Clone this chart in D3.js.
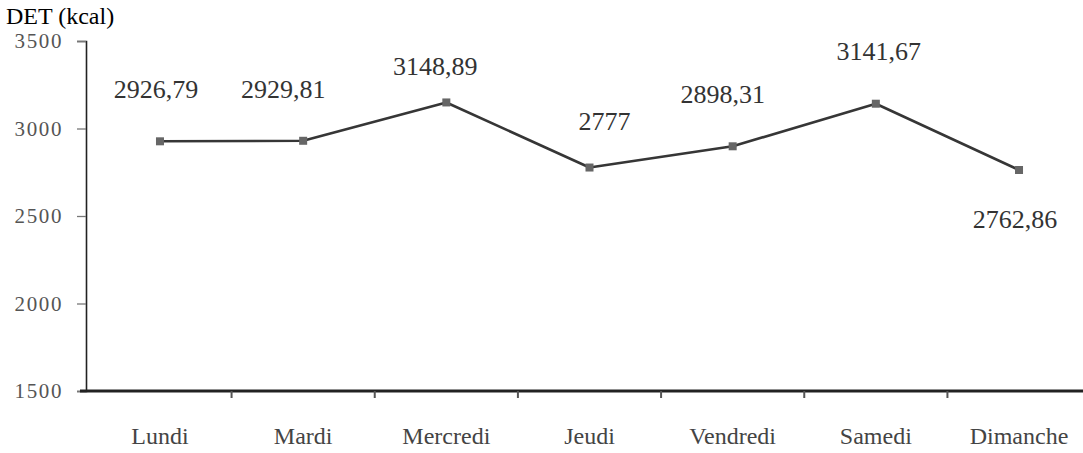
<!DOCTYPE html>
<html>
<head>
<meta charset="utf-8">
<script src="https://cdn.jsdelivr.net/npm/d3@7"></script>
<style>
  html, body { margin: 0; padding: 0; background: #fff; }
  svg { display: block; }
  svg text { font-family: "Liberation Serif", "Times New Roman", serif !important; }
</style>
</head>
<body>
<svg id="chart" width="1083" height="453"></svg>
<script>
// Daily energy intake (DET) by day of week
const days = ["Lundi", "Mardi", "Mercredi", "Jeudi", "Vendredi", "Samedi", "Dimanche"];
const det = [2926.79, 2929.81, 3148.89, 2777, 2898.31, 3141.67, 2762.86];
const labelText = ["2926,79", "2929,81", "3148,89", "2777", "2898,31", "3141,67", "2762,86"];
const yTicks = [1500, 2000, 2500, 3000, 3500];

const SERIF = "'Liberation Serif', 'Times New Roman', serif";
const root = d3.select("#chart").append("g").attr("font-family", SERIF);

const x = d3.scaleBand().domain(days).range([88.4, 1090.6]);
const y = d3.scaleLinear().domain([1500, 3500]).range([391, 41]);

// Y axis
const yAxis = root.append("g")
  .attr("transform", "translate(86,0)")
  .call(d3.axisLeft(y).tickValues(yTicks).tickSize(9).tickPadding(14).tickFormat(d3.format("d")))
  .attr("font-family", SERIF);
yAxis.select(".domain").attr("stroke", "#222").attr("stroke-width", 1.6);
yAxis.selectAll(".tick line").attr("stroke", "#777").attr("stroke-width", 1.3);
yAxis.selectAll(".tick text")
  .attr("fill", "#555")
  .style("font-size", "21px")
  .style("letter-spacing", "1.6px");

// X axis baseline with ticks between categories
const xAxisG = root.append("g").attr("transform", `translate(0,${y(1500)})`);
xAxisG.append("line")
  .attr("x1", 80).attr("x2", 1090).attr("y1", 0).attr("y2", 0)
  .attr("stroke", "#222").attr("stroke-width", 2.8);
const bounds = days.slice(1).map(d => x(d));
xAxisG.selectAll("line.tk").data(bounds).enter().append("line")
  .attr("class", "tk")
  .attr("x1", d => d).attr("x2", d => d).attr("y1", 0).attr("y2", 7)
  .attr("stroke", "#555").attr("stroke-width", 2);
xAxisG.selectAll("text.cat").data(days).enter().append("text")
  .attr("class", "cat")
  .attr("x", d => x(d) + x.bandwidth() / 2)
  .attr("y", 53)
  .attr("text-anchor", "middle")
  .attr("fill", "#444")
  .style("font-size", "24px")
  .text(d => d);

// Title
root.append("g").append("text")
  .attr("x", 6).attr("y", 24)
  .attr("fill", "#000")
  .style("font-size", "24px")
  .text("DET (kcal)");

// Line
const cx = d => x(d) + x.bandwidth() / 2;
const line = d3.line().x((d, i) => cx(days[i])).y(d => y(d));
root.append("path")
  .datum(det)
  .attr("fill", "none")
  .attr("stroke", "#363636")
  .attr("stroke-width", 2.6)
  .attr("stroke-linejoin", "round")
  .attr("d", line);

// Markers
root.selectAll("rect.pt").data(det).enter().append("rect")
  .attr("class", "pt")
  .attr("x", (d, i) => cx(days[i]) - 4)
  .attr("y", d => y(d) - 4)
  .attr("width", 8).attr("height", 8)
  .attr("fill", "#666");

// Value labels (offset from each point)
const offsets = [
  { dx: -4, dy: -43 },
  { dx: -20, dy: -43 },
  { dx: -11, dy: -27 },
  { dx: 15, dy: -38 },
  { dx: -10, dy: -43 },
  { dx: 3, dy: -44 },
  { dx: -4, dy: 58 }
];
root.append("g").selectAll("text.val").data(det).enter().append("text")
  .attr("class", "val")
  .attr("x", (d, i) => cx(days[i]) + offsets[i].dx)
  .attr("y", (d, i) => y(d) + offsets[i].dy)
  .attr("text-anchor", "middle")
  .attr("fill", "#333")
  .style("font-size", "26px")
  .text((d, i) => labelText[i]);
</script>
</body>
</html>
